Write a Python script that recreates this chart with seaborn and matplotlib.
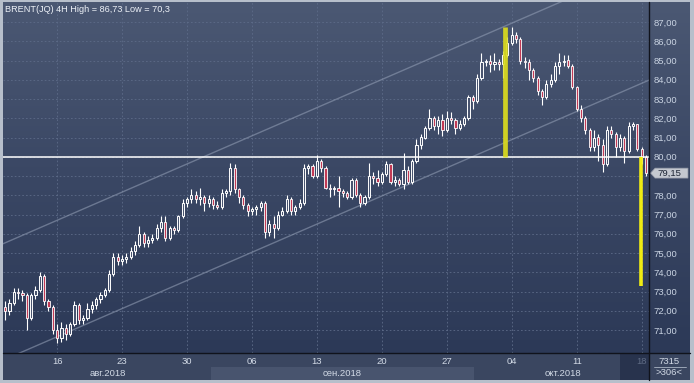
import matplotlib
matplotlib.use("Agg")
import matplotlib.pyplot as plt
import numpy as np
import pandas as pd
import seaborn as sns
from matplotlib.patches import Polygon, Rectangle
from matplotlib.lines import Line2D
from matplotlib.colors import LinearSegmentedColormap

# ---------------- data ----------------
title = "BRENT(JQ) 4H High = 86,73 Low = 70,3"

opens = [72.2, 72.0, 72.4, 73.0, 72.9, 72.8, 71.6, 72.8, 73.1, 73.8,
         72.5, 72.2, 71.0, 70.6, 71.1, 70.8, 71.3, 72.3, 71.5, 71.6,
         72.1, 72.3, 72.6, 72.8, 73.1, 73.9, 74.8, 74.6, 74.7, 74.8,
         75.1, 75.4, 76.0, 75.5, 75.7, 75.8, 76.3, 76.6, 75.8, 76.3,
         76.2, 76.9, 77.6, 77.8, 78.0, 77.8, 77.9, 77.6, 77.8, 77.5,
         77.4, 78.1, 78.2, 79.4, 78.3, 77.9, 77.5, 77.2, 77.3, 77.4,
         77.6, 76.1, 76.5, 76.3, 77.0, 77.2, 77.8, 77.2, 77.4, 77.6,
         79.4, 79.5, 79.0, 79.8, 79.4, 78.4, 78.3, 78.4, 78.2, 78.1,
         77.9, 78.8, 78.0, 77.6, 77.9, 79.0, 78.9, 78.7, 79.1, 79.6,
         78.7, 78.8, 78.6, 79.3, 78.7, 79.8, 80.6, 81.0, 81.5, 82.0,
         81.6, 81.9, 81.4, 82.0, 81.9, 81.5, 81.7, 82.0, 83.1, 82.9,
         84.1, 84.9, 85.0, 84.8, 84.9, 84.8, 85.3, 85.9, 86.3, 86.1,
         85.0, 84.9, 84.5, 84.1, 83.4, 83.1, 83.8, 84.0, 84.7, 84.9,
         85.0, 84.7, 83.6, 82.5, 82.0, 81.4, 80.5, 81.0, 80.6, 79.6,
         81.4, 81.2, 80.5, 81.0, 80.3, 81.6, 81.7, 80.4, 80.0]
highs = [72.5, 72.6, 73.2, 73.2, 73.1, 72.9, 72.9, 73.3, 74.0, 73.9,
         72.6, 72.3, 71.3, 71.4, 71.3, 71.4, 72.5, 72.4, 71.8, 72.4,
         72.5, 72.7, 73.0, 73.2, 74.1, 75.0, 75.0, 74.9, 75.0, 75.3,
         75.6, 76.4, 76.1, 75.9, 76.0, 76.5, 76.9, 76.9, 76.4, 76.4,
         77.0, 77.8, 77.9, 78.3, 78.2, 78.4, 78.0, 78.0, 77.9, 77.7,
         78.3, 78.3, 79.7, 79.6, 78.4, 78.0, 77.6, 77.4, 77.5, 77.7,
         77.7, 76.7, 76.9, 77.2, 77.4, 78.0, 77.9, 77.5, 77.8, 79.6,
         79.6, 79.6, 80.1, 79.9, 79.5, 78.6, 78.5, 79.0, 78.3, 78.2,
         78.9, 78.9, 78.1, 78.0, 79.7, 79.2, 79.3, 79.2, 79.8, 79.7,
         79.0, 78.9, 80.2, 79.5, 79.9, 80.9, 81.2, 81.6, 82.5, 82.1,
         82.1, 82.2, 82.4, 82.3, 82.0, 81.9, 82.1, 83.2, 83.2, 84.3,
         85.4, 85.1, 85.3, 85.4, 85.1, 85.5, 86.2, 86.73, 86.5, 86.2,
         85.2, 85.1, 84.6, 84.2, 83.5, 84.0, 84.3, 84.9, 85.4, 85.3,
         85.3, 84.8, 83.7, 82.7, 82.1, 81.5, 81.4, 81.2, 80.9, 81.6,
         81.6, 81.3, 81.2, 81.1, 81.8, 81.8, 81.7, 80.5, 80.1]
lows = [71.5, 71.8, 72.3, 72.6, 72.5, 71.0, 71.5, 72.6, 73.0, 72.3,
        72.0, 70.8, 70.3, 70.4, 70.5, 70.7, 71.2, 71.3, 71.3, 71.5,
        71.9, 72.1, 72.4, 72.7, 73.0, 73.8, 74.4, 74.4, 74.5, 74.7,
        74.9, 75.3, 75.3, 75.3, 75.5, 75.7, 76.1, 75.6, 75.7, 76.0,
        76.1, 76.8, 77.4, 77.6, 77.6, 77.5, 77.2, 77.4, 77.3, 77.3,
        77.3, 77.9, 78.0, 78.1, 77.6, 77.3, 76.9, 77.0, 77.0, 77.2,
        75.8, 75.9, 75.8, 76.2, 76.9, 77.1, 77.0, 77.0, 77.3, 77.5,
        79.1, 78.9, 78.9, 79.2, 78.3, 77.9, 78.0, 77.4, 77.9, 77.8,
        77.8, 77.9, 77.4, 77.5, 77.8, 78.6, 78.5, 78.6, 79.0, 78.6,
        78.5, 78.5, 78.3, 78.6, 78.6, 79.7, 80.4, 80.9, 81.4, 81.4,
        81.2, 81.1, 81.3, 81.7, 81.2, 81.4, 81.6, 81.9, 82.5, 82.8,
        84.0, 84.7, 84.4, 84.5, 84.5, 84.1, 85.2, 85.8, 85.9, 84.8,
        84.6, 84.0, 83.9, 83.2, 82.7, 83.0, 83.6, 83.9, 84.3, 84.7,
        84.6, 83.5, 82.4, 81.8, 81.2, 80.3, 80.3, 79.8, 79.2, 79.5,
        81.0, 80.0, 80.3, 79.7, 80.2, 81.4, 80.3, 79.6, 79.0]
closes = [72.0, 72.4, 73.0, 72.9, 72.8, 71.6, 72.8, 73.1, 73.8, 72.5,
          72.2, 71.0, 70.6, 71.1, 70.8, 71.3, 72.3, 71.5, 71.6, 72.1,
          72.3, 72.6, 72.8, 73.1, 73.9, 74.8, 74.6, 74.7, 74.8, 75.1,
          75.4, 76.0, 75.5, 75.7, 75.8, 76.3, 76.6, 75.8, 76.3, 76.2,
          76.9, 77.6, 77.8, 78.0, 77.8, 77.9, 77.6, 77.8, 77.5, 77.4,
          78.1, 78.2, 79.4, 78.3, 77.9, 77.5, 77.2, 77.3, 77.4, 77.6,
          76.1, 76.5, 76.3, 77.0, 77.2, 77.8, 77.2, 77.4, 77.6, 79.4,
          79.5, 79.0, 79.8, 79.4, 78.4, 78.3, 78.4, 78.2, 78.1, 77.9,
          78.8, 78.0, 77.6, 77.9, 79.0, 78.9, 78.7, 79.1, 79.6, 78.7,
          78.8, 78.6, 79.3, 78.7, 79.8, 80.6, 81.0, 81.5, 82.0, 81.6,
          81.9, 81.4, 82.0, 81.9, 81.5, 81.7, 82.0, 83.1, 82.9, 84.1,
          84.9, 85.0, 84.8, 84.9, 84.8, 85.3, 85.9, 86.3, 86.1, 85.0,
          84.9, 84.5, 84.1, 83.4, 83.1, 83.8, 84.0, 84.7, 84.9, 85.0,
          84.7, 83.6, 82.5, 82.0, 81.4, 80.5, 81.0, 80.6, 79.6, 81.4,
          81.2, 80.5, 81.0, 80.3, 81.6, 81.7, 80.4, 80.0, 79.15]

day_tick_pos = [12, 27, 42, 57, 72, 87, 102, 117, 132, 147]
day_tick_labels = ["16", "23", "30", "06", "13", "20", "27", "04", "11", "18"]
month_labels = ["авг.2018", "сен.2018", "окт.2018"]
month_label_pos = [23.8, 77.8, 128.8]
month_band_edges = [-0.5, 47.5, 108.3, 142.0]
future_start = 142.0

price_ticks = [71, 72, 73, 74, 75, 76, 77, 78, 79, 80, 81, 82, 83, 84, 85, 86, 87]
level_price = 80.0
last_price = 79.15
last_price_label = "79,15"

channel_x = [-0.5, 148.7]
channel_lower = [69.43, 83.98]
channel_upper = [75.48, 90.03]

proj_x = [115.4, 146.8]
proj_low = [80.0, 73.27]
proj_high = [86.73, 80.0]

corner_top = "7315"
corner_bottom = ">306<"

# ---------------- style ----------------
sns.set_style("dark")
plt.rcParams['font.family'] = ['Liberation Sans', 'DejaVu Sans']

W, H = 694, 383
fig = plt.figure(figsize=(W / 100, H / 100), dpi=100)
fig.patch.set_facecolor('#b7bfcb')


def fr(x0, y0, x1, y1):
    return [x0 / W, 1 - y1 / H, (x1 - x0) / W, (y1 - y0) / H]


XL = (-0.5, 148.7)
YB = 87 - (353 - 22) / 19.25
YT = 87 + (22 - 2) / 19.25

# background gradient
bg = fig.add_axes(fr(3, 2, 690, 353))
grad = np.linspace(0, 1, 256).reshape(-1, 1)
cmap = LinearSegmentedColormap.from_list('bg', ['#4b5873', '#3a4764', '#2c3957'])
bg.imshow(grad, aspect='auto', cmap=cmap, extent=[0, 1, 0, 1], origin='upper')
bg.set_axis_off()

ax = fig.add_axes(fr(3, 2, 649, 353))
ax.patch.set_alpha(0)

df = pd.DataFrame({'i': np.arange(len(closes)), 'open': opens, 'high': highs,
                   'low': lows, 'close': closes})

# grid
for p in price_ticks:
    ax.axhline(p, color='#5d6b88', lw=0.6, ls=(0, (2, 2.5)), zorder=1)
for t in day_tick_pos:
    ax.axvline(t, color='#5d6b88', lw=0.6, ls=(0, (2, 2.5)), zorder=1)

# channel lines
ch = pd.DataFrame({'x': channel_x, 'lower': channel_lower, 'upper': channel_upper})
sns.lineplot(data=ch, x='x', y='lower', ax=ax, color='#8f9bb2', lw=1.0, alpha=0.6, zorder=2)
sns.lineplot(data=ch, x='x', y='upper', ax=ax, color='#8f9bb2', lw=1.0, alpha=0.6, zorder=2)

# candles
ax.vlines(df['i'], df['low'], df['high'], color='white', lw=0.8, zorder=3)
up = df['close'] >= df['open']
body_bottom = np.minimum(df['open'], df['close'])
body_h = np.maximum(np.abs(df['close'] - df['open']), 0.06)
ax.bar(df['i'][up], body_h[up], bottom=body_bottom[up], width=0.5,
       color='#4a5570', edgecolor='white', linewidth=0.7, zorder=3)
ax.bar(df['i'][~up], body_h[~up], bottom=body_bottom[~up], width=0.5,
       color='#c23a55', edgecolor='white', linewidth=0.6, zorder=3)

# level line
ax.axhline(level_price, color='white', lw=1.1, zorder=4)

# projection bars
ax.vlines(proj_x[0], proj_low[0], proj_high[0], color='#dcdc1e', lw=3.4, alpha=0.92, zorder=5)
ax.vlines(proj_x[1], proj_low[1], proj_high[1], color='#f0ec12', lw=2.6, zorder=5)

ax.set_xlim(*XL)
ax.set_ylim(YB, YT)
ax.set_xlabel('')
ax.set_ylabel('')
ax.set_xticks(day_tick_pos)
ax.tick_params(axis='x', length=0, labelbottom=False)
ax.yaxis.tick_right()
ax.set_yticks(price_ticks)
ax.set_yticklabels(['' if p == 79 else f"{p:.2f}".replace('.', ',') for p in price_ticks])
ax.tick_params(axis='y', length=0, pad=3, labelsize=6.8, labelcolor='#c9d3e2')
ax.grid(False)
for s in ['top', 'left', 'bottom', 'right']:
    ax.spines[s].set_visible(False)

# title
fig.text(5 / W, 1 - 9.5 / H, title, fontsize=6.6, color='#eef2f8', va='center', ha='left')

# bottom time axis strip
axb = fig.add_axes(fr(3, 353, 649, 380))
axb.set_xlim(*XL)
axb.set_ylim(0, 1)
axb.set_facecolor('#3a4660')
row_split = (380 - 367) / 27
axb.add_patch(Rectangle((month_band_edges[1], 0), month_band_edges[2] - month_band_edges[1],
                        row_split, color='#48546e', lw=0))
axb.add_patch(Rectangle((future_start, 0), XL[1] - future_start, 1, color='#28334d', lw=0))
for t, lab in zip(day_tick_pos, day_tick_labels):
    col = '#5f6b84' if t > future_start else '#d2dae6'
    axb.text(t, (380 - 361.5) / 27, lab, ha='center', va='center', fontsize=6.8, color=col)
for t, lab in zip(month_label_pos, month_labels):
    axb.text(t, (380 - 373.5) / 27, lab, ha='center', va='center', fontsize=6.8, color='#d2dae6')
axb.set_xticks([])
axb.set_yticks([])
for s in axb.spines.values():
    s.set_visible(False)

# corner box
axc = fig.add_axes(fr(649, 353, 690, 380))
axc.set_facecolor('#3a4660')
axc.set_xlim(0, 1)
axc.set_ylim(0, 1)
axc.text(0.5, 0.7, corner_top, ha='center', va='center', fontsize=6.8, color='#d2dae6')
axc.text(0.5, 0.26, corner_bottom, ha='center', va='center', fontsize=6.8, color='#d2dae6')
axc.plot([0.12, 0.9], [0.48, 0.48], color='#aab4c4', lw=0.6)
axc.set_xticks([])
axc.set_yticks([])
for s in axc.spines.values():
    s.set_visible(False)

# separator lines
fig.add_artist(Line2D([649 / W, 649 / W], [1 - 2 / H, 1 - 380 / H], color='#10131c', lw=1.0))
fig.add_artist(Line2D([3 / W, 690 / W], [1 - 353 / H, 1 - 353 / H], color='#10131c', lw=1.0))

# last price box
yp = 22 + (87 - last_price) * 19.25
pts = [(650.5, yp), (655, yp - 5), (688, yp - 5), (688, yp + 5), (655, yp + 5)]
fig.add_artist(Polygon([(x / W, 1 - y / H) for x, y in pts], closed=True,
                       facecolor='#c4c8d0', edgecolor='#8a90a0', lw=0.5))
fig.text(657 / W, 1 - yp / H, last_price_label, fontsize=6.8, color='#1e2636',
         va='center', ha='left', zorder=6)

fig.savefig('out.png', dpi=100, facecolor=fig.get_facecolor())
